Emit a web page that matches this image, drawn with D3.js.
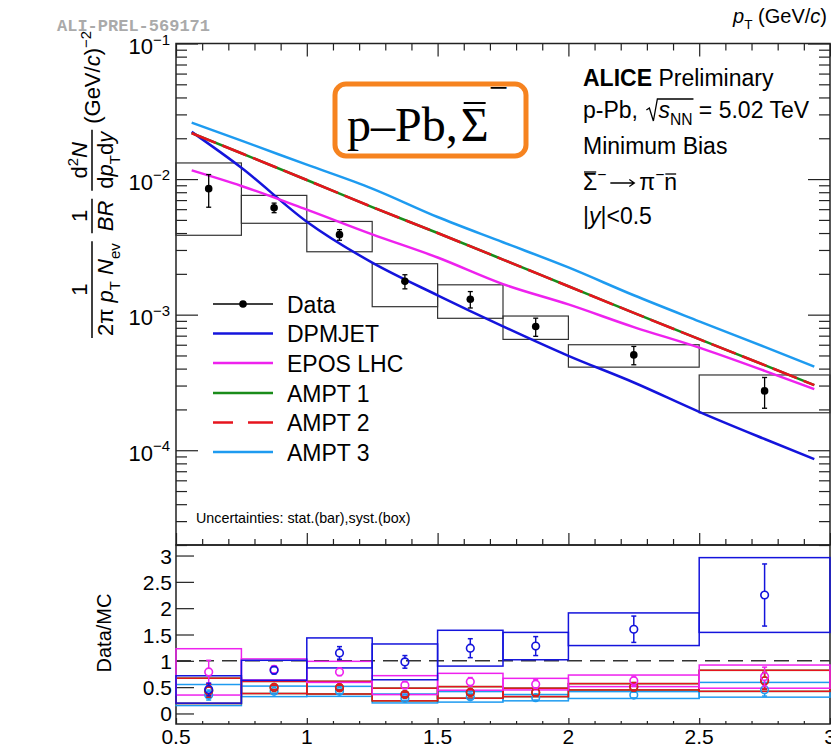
<!DOCTYPE html>
<html>
<head>
<meta charset="utf-8">
<script src="https://cdn.jsdelivr.net/npm/d3@7"></script>
<style>
  body { margin: 0; background: #fff; }
  text { font-family: "Liberation Sans", Arial, sans-serif; white-space: pre; fill: #000; }
</style>
</head>
<body>
<div id="container"></div>
<script>
/* DATA */
const binLow    = [0.5, 0.75, 1.0, 1.25, 1.5, 1.75, 2.0, 2.5];
const binHigh   = [0.75, 1.0, 1.25, 1.5, 1.75, 2.0, 2.5, 3.0];
const binCenter = [0.625, 0.875, 1.125, 1.375, 1.625, 1.875, 2.25, 2.75];
const dataYield = [8.5e-3, 6.15e-3, 3.89e-3, 1.76e-3, 1.30e-3, 8.17e-4, 5.05e-4, 2.74e-4];
const dataStat  = [2.3e-3, 0.5e-3, 0.35e-3, 0.21e-3, 0.18e-3, 1.25e-4, 0.78e-4, 0.7e-4];
const dataSyst  = [4.65e-3, 1.43e-3, 0.98e-3, 0.615e-3, 0.36e-3, 1.6e-4, 0.95e-4, 0.85e-4];

// model curves (pT grid)
const modelPt = [0.56, 0.75, 1.0, 1.25, 1.5, 1.75, 2.0, 2.25, 2.5, 2.75, 2.94];
const dpmjet  = [0.0223, 0.01213, 4.85e-3, 2.42e-3, 1.39e-3, 8.2e-4, 4.97e-4, 3.16e-4, 1.92e-4, 1.21e-4, 8.6e-5];
const eposLhc = [0.01159, 8.9e-3, 5.95e-3, 3.91e-3, 2.64e-3, 1.68e-3, 1.19e-3, 8.1e-4, 5.71e-4, 3.85e-4, 2.82e-4];
const ampt1   = [0.0218, 0.0155, 9.84e-3, 6.22e-3, 4.0e-3, 2.55e-3, 1.62e-3, 1.03e-3, 6.59e-4, 4.24e-4, 3.02e-4];
const ampt2   = [0.0218, 0.0155, 9.84e-3, 6.22e-3, 4.0e-3, 2.55e-3, 1.62e-3, 1.03e-3, 6.59e-4, 4.24e-4, 3.02e-4];
const ampt3   = [0.0261, 0.0192, 0.01277, 8.51e-3, 5.25e-3, 3.42e-3, 2.23e-3, 1.39e-3, 8.93e-4, 5.78e-4, 4.14e-4];

// Data/MC ratios
const ratioDpmjet     = [0.456, 0.82, 1.15, 0.98, 1.24, 1.28, 1.6, 2.25];
const ratioDpmjetStat = [0.12, 0.07, 0.12, 0.12, 0.18, 0.18, 0.25, 0.59];
const ratioDpmjetSyst = [0.26, 0.19, 0.285, 0.34, 0.34, 0.26, 0.31, 0.71];
const ratioEpos       = [0.79, 0.836, 0.79, 0.538, 0.602, 0.557, 0.62, 0.70];
const ratioEposStat   = [0.22, 0.07, 0.07, 0.065, 0.08, 0.085, 0.09, 0.18];
const ratioEposSyst   = [0.44, 0.2, 0.2, 0.18, 0.16, 0.11, 0.11, 0.22];
const ratioAmpt1      = [0.43, 0.494, 0.49, 0.36, 0.40, 0.40, 0.507, 0.62];
const ratioAmpt1Stat  = [0.12, 0.04, 0.045, 0.045, 0.055, 0.06, 0.08, 0.16];
const ratioAmpt1Syst  = [0.24, 0.115, 0.12, 0.12, 0.11, 0.08, 0.06, 0.2];
const ratioAmpt2      = [0.43, 0.494, 0.49, 0.36, 0.40, 0.40, 0.507, 0.62];
const ratioAmpt2Stat  = [0.12, 0.04, 0.045, 0.045, 0.055, 0.06, 0.08, 0.16];
const ratioAmpt2Syst  = [0.24, 0.115, 0.12, 0.12, 0.11, 0.08, 0.06, 0.2];
const ratioAmpt3      = [0.35, 0.42, 0.42, 0.285, 0.316, 0.30, 0.35, 0.45];
const ratioAmpt3Stat  = [0.095, 0.035, 0.04, 0.035, 0.045, 0.045, 0.055, 0.12];
const ratioAmpt3Syst  = [0.2, 0.1, 0.095, 0.085, 0.1, 0.06, 0.065, 0.14];

const legendLabels = ["Data", "DPMJET", "EPOS LHC", "AMPT 1", "AMPT 2", "AMPT 3"];
const topTickExp   = [-1, -2, -3, -4];
const ratioTicks   = [0, 0.5, 1, 1.5, 2, 2.5, 3];
const xTicks       = [0.5, 1, 1.5, 2, 2.5, 3];

/* CONSTANTS AND GLOBALS */
const width = 831, height = 747;
const left = 176, right = 830, top1 = 43.5, split = 545, bottom2 = 724;
const colors = {dpmjet: "#1414dc", epos: "#ee22ee", ampt1: "#1a8c1a", ampt2: "#e6141e", ampt3: "#1e9bf0"};

const svg = d3.select("#container").append("svg")
  .attr("width", width).attr("height", height);

// SCALES
const x = d3.scaleLinear().domain([0.5, 3]).range([left, right]);
const yTop = d3.scaleLog().domain([2e-5, 0.1]).range([split, top1]);
const yRat = d3.scaleLinear().domain([-0.2, 3.2]).range([bottom2, split]);

// small latex-ish text helper
function rich(g, x0, y0, parts, size, anchor) {
  const t = g.append("text").attr("x", x0).attr("y", y0)
    .attr("font-size", size).attr("text-anchor", anchor || "start");
  let shift = 0;
  parts.forEach(p => {
    const s = p.sub ? size * 0.3 : p.sup ? -size * 0.42 : 0;
    const sp = t.append("tspan").text(p.t).attr("dy", s - shift)
      .attr("font-size", (p.sub || p.sup) ? size * 0.68 : size);
    if (p.it) sp.attr("font-style", "italic");
    if (p.bold) sp.attr("font-weight", "bold");
    shift = s;
  });
  return t;
}

// AXES (ROOT style ticks pointing inward)
function ticks(axis, tx, ty) {
  svg.append("g").attr("transform", `translate(${tx},${ty})`).call(axis)
    .call(g => g.select(".domain").remove())
    .call(g => g.selectAll("line").attr("stroke", "#222").attr("stroke-width", 1.2))
    .call(g => g.selectAll("text").remove());
}
const logMajor = topTickExp.map(e => Math.pow(10, e));
const logMinor = [];
[-5, -4, -3, -2].forEach(e => d3.range(2, 10).forEach(k => {
  const v = k * Math.pow(10, e);
  if (v >= 2e-5 && v < 0.1) logMinor.push(v);
}));
const xMinor = d3.range(0.6, 3.0, 0.1).filter(v => Math.abs(v * 2 - Math.round(v * 2)) > 1e-6);

ticks(d3.axisLeft(yTop).tickValues(logMajor).tickSize(-22), left, 0);
ticks(d3.axisLeft(yTop).tickValues(logMinor).tickSize(-11), left, 0);
ticks(d3.axisRight(yTop).tickValues(logMajor).tickSize(-22), right, 0);
ticks(d3.axisRight(yTop).tickValues(logMinor).tickSize(-11), right, 0);
ticks(d3.axisTop(x).tickValues(xTicks).tickSize(-13), 0, top1);
ticks(d3.axisTop(x).tickValues(xMinor).tickSize(-7), 0, top1);
ticks(d3.axisBottom(x).tickValues(xTicks).tickSize(-12), 0, split);
ticks(d3.axisBottom(x).tickValues(xMinor).tickSize(-6), 0, split);
ticks(d3.axisLeft(yRat).tickValues(ratioTicks).tickSize(-18), left, 0);
ticks(d3.axisBottom(x).tickValues(xTicks).tickSize(-6), 0, bottom2);
ticks(d3.axisBottom(x).tickValues(xMinor).tickSize(-3), 0, bottom2);

// frames
svg.append("rect").attr("x", left).attr("y", top1).attr("width", right - left).attr("height", split - top1)
  .attr("fill", "none").attr("stroke", "#222").attr("stroke-width", 1.5);
svg.append("rect").attr("x", left).attr("y", split).attr("width", right - left).attr("height", bottom2 - split)
  .attr("fill", "none").attr("stroke", "#222").attr("stroke-width", 1.5);

// tick labels
topTickExp.forEach(e => rich(svg, 170, yTop(Math.pow(10, e)) + 10.5, [{t: "10"}, {t: "\u2212" + (-e), sup: 1}], 22, "end"));
ratioTicks.forEach(v => rich(svg, 172, yRat(v) + 8, [{t: String(v)}], 21, "end"));
xTicks.forEach(v => rich(svg, x(v), 744, [{t: String(v)}], 21, "middle"));

// axis titles
rich(svg, 827, 23, [{t: "p", it: 1}, {t: "T", sub: 1}, {t: " (GeV/"}, {t: "c", it: 1}, {t: ")"}], 20, "end");
svg.append("text").attr("transform", "translate(111,633) rotate(-90)")
  .attr("text-anchor", "middle").attr("font-size", 20).text("Data/MC");

const yt = svg.append("g").attr("transform", "translate(92,338) rotate(-90)");
function frac(g, x0, num, den, size) {
  const n = rich(g, 0, -5, num, size, "middle");
  const d = rich(g, 0, 21, den, size, "middle");
  const w = Math.max(n.node().getComputedTextLength(), d.node().getComputedTextLength()) + 4;
  n.attr("x", x0 + w / 2); d.attr("x", x0 + w / 2);
  g.append("line").attr("x1", x0).attr("x2", x0 + w).attr("y1", 0).attr("y2", 0)
    .attr("stroke", "#000").attr("stroke-width", 1.5);
  return x0 + w;
}
let cx = frac(yt, 0, [{t: "1"}], [{t: "2\u03c0 "}, {t: "p", it: 1}, {t: "T", sub: 1}, {t: " "}, {t: "N", it: 1}, {t: "ev", sub: 1}], 22);
cx = frac(yt, cx + 8, [{t: "1"}], [{t: "BR", it: 1}], 22);
cx = frac(yt, cx + 8, [{t: "d"}, {t: "2", sup: 1}, {t: "N", it: 1}], [{t: "d"}, {t: "p", it: 1}, {t: "T", sub: 1}, {t: "d"}, {t: "y", it: 1}], 22);
rich(yt, cx + 6, 8, [{t: "(GeV/"}, {t: "c", it: 1}, {t: ")"}, {t: "\u22122", sup: 1}], 22);

// preliminary tag
svg.append("text").attr("x", 57).attr("y", 31).attr("font-size", 17).attr("font-weight", "bold")
  .style("font-family", "'Liberation Mono', monospace").style("fill", "#aaa").text("ALI-PREL-569171");

// DATA BOXES (syst) AND POINTS
const idx = d3.range(binCenter.length);
svg.selectAll("rect.syst").data(idx).join("rect").attr("class", "syst")
  .attr("x", i => x(binLow[i])).attr("width", i => x(binHigh[i]) - x(binLow[i]))
  .attr("y", i => yTop(dataYield[i] + dataSyst[i]))
  .attr("height", i => yTop(dataYield[i] - dataSyst[i]) - yTop(dataYield[i] + dataSyst[i]))
  .attr("fill", "none").attr("stroke", "#333").attr("stroke-width", 1.2);

// MODEL LINES
const lineGen = d3.line().x(d => x(d[0])).y(d => yTop(d[1])).curve(d3.curveMonotoneX);
const models = [
  {vals: dpmjet, color: colors.dpmjet},
  {vals: eposLhc, color: colors.epos},
  {vals: ampt3, color: colors.ampt3},
  {vals: ampt1, color: colors.ampt1},
  {vals: ampt2, color: colors.ampt2, dash: "26,7"}
];
svg.selectAll("path.model").data(models).join("path").attr("class", "model")
  .attr("d", m => lineGen(modelPt.map((p, i) => [p, m.vals[i]])))
  .attr("fill", "none").attr("stroke", m => m.color).attr("stroke-width", 2.5)
  .attr("stroke-dasharray", m => m.dash || null);

// data points on top
idx.forEach(i => {
  const cxp = x(binCenter[i]);
  const yHi = yTop(dataYield[i] + dataStat[i]), yLo = yTop(dataYield[i] - dataStat[i]);
  svg.append("line").attr("x1", cxp).attr("x2", cxp).attr("y1", yHi).attr("y2", yLo).attr("stroke", "#000").attr("stroke-width", 1.3);
  [yHi, yLo].forEach(yy => svg.append("line").attr("x1", cxp - 2.5).attr("x2", cxp + 2.5).attr("y1", yy).attr("y2", yy).attr("stroke", "#000").attr("stroke-width", 1.3));
  svg.append("circle").attr("cx", cxp).attr("cy", yTop(dataYield[i])).attr("r", 3.8).attr("fill", "#000");
});

// LEGEND
const legY = [304, 333.5, 363, 393, 422.5, 452];
const legStyle = [
  {color: "#000", data: 1},
  {color: colors.dpmjet}, {color: colors.epos}, {color: colors.ampt1},
  {color: colors.ampt2, dash: "20,15,25"}, {color: colors.ampt3}
];
legendLabels.forEach((lab, i) => {
  const s = legStyle[i];
  svg.append("line").attr("x1", 213).attr("x2", 273).attr("y1", legY[i]).attr("y2", legY[i])
    .attr("stroke", s.color).attr("stroke-width", s.data ? 1.3 : 2.5).attr("stroke-dasharray", s.dash || null);
  if (s.data) svg.append("circle").attr("cx", 243).attr("cy", legY[i]).attr("r", 3.8).attr("fill", "#000");
  rich(svg, 287, legY[i] + 8.5, [{t: lab}], 23);
});
rich(svg, 196, 523, [{t: "Uncertainties: stat.(bar),syst.(box)"}], 14.3);

// TITLE BOX
svg.append("rect").attr("x", 335).attr("y", 84).attr("width", 191).attr("height", 72).attr("rx", 11)
  .attr("fill", "#fff").attr("stroke", "#f6831f").attr("stroke-width", 5);
const serif = "'Liberation Serif', 'Times New Roman', serif";
const tbY = 141;
const tb1 = svg.append("text").attr("x", 347).attr("y", tbY).attr("font-size", 48).style("font-family", serif).text("p\u2013Pb,");
const sx = 347 + tb1.node().getComputedTextLength() + 3;
const tb2 = svg.append("text").attr("x", sx).attr("y", tbY).attr("font-size", 48).style("font-family", serif).text("\u03a3");
const sw = tb2.node().getComputedTextLength();
svg.append("line").attr("x1", sx + 3).attr("x2", sx + sw - 3).attr("y1", tbY - 38).attr("y2", tbY - 38).attr("stroke", "#000").attr("stroke-width", 2);
svg.append("text").attr("x", sx + sw).attr("y", tbY - 42).attr("font-size", 34).style("font-family", serif).text("\u2212");

// ALICE TEXT
function seq(g, x0, y0, pieces, size) {
  let xx = x0;
  pieces.forEach(p => {
    if (p.sqrt) { xx += 2; p.sqrtStart = xx; xx += 12; return; }
    if (p.arrow) {
      const ay = y0 - 7, x1 = xx + 2, x2 = xx + p.arrow;
      g.append("path").attr("d", `M${x1},${ay} L${x2},${ay} M${x2 - 5},${ay - 3.5} L${x2},${ay} L${x2 - 5},${ay + 3.5}`)
        .attr("fill", "none").attr("stroke", "#000").attr("stroke-width", 1.3);
      xx += p.arrow + 5;
      return;
    }
    const t = rich(g, xx, y0, p.parts, size);
    const w = t.node().getComputedTextLength();
    if (p.over) g.append("line").attr("x1", xx + 1).attr("x2", xx + w - 1).attr("y1", y0 - p.over).attr("y2", y0 - p.over).attr("stroke", "#000").attr("stroke-width", 1.3);
    if (p.rad) {
      const xr = p.rad.sqrtStart, tp = y0 - 19;
      g.append("path").attr("d", `M${xr},${y0 - 8} L${xr + 3},${y0 - 10} L${xr + 7},${y0 + 3} L${xr + 11},${tp} L${xx + w + 1},${tp}`)
        .attr("fill", "none").attr("stroke", "#000").attr("stroke-width", 1.3);
    }
    xx += w + (p.gap || 0);
  });
}
rich(svg, 583, 86, [{t: "ALICE", bold: 1}, {t: " Preliminary"}], 23);
const rootMark = {sqrt: 1};
seq(svg, 583, 118, [
  {parts: [{t: "p-Pb, "}]}, rootMark,
  {parts: [{t: "s", it: 1}, {t: "NN", sub: 1}], rad: rootMark},
  {parts: [{t: " = 5.02 TeV"}]}
], 23);
rich(svg, 583, 154, [{t: "Minimum Bias"}], 23);
seq(svg, 583, 190, [
  {parts: [{t: "\u03a3"}], over: 18},
  {parts: [{t: "\u2212", sup: 1}], gap: 2},
  {arrow: 26},
  {parts: [{t: "\u03c0"}]},
  {parts: [{t: "\u2212", sup: 1}]},
  {parts: [{t: "n"}], over: 16}
], 23);
rich(svg, 583, 224, [{t: "|"}, {t: "y", it: 1}, {t: "|<0.5"}], 23);

// RATIO PANEL
svg.append("line").attr("x1", left).attr("x2", right).attr("y1", yRat(1)).attr("y2", yRat(1))
  .attr("stroke", "#333").attr("stroke-width", 1.6).attr("stroke-dasharray", "15,8");

const ratios = [
  {v: ratioAmpt3, st: ratioAmpt3Stat, sy: ratioAmpt3Syst, color: colors.ampt3},
  {v: ratioAmpt1, st: ratioAmpt1Stat, sy: ratioAmpt1Syst, color: colors.ampt1},
  {v: ratioAmpt2, st: ratioAmpt2Stat, sy: ratioAmpt2Syst, color: colors.ampt2},
  {v: ratioEpos, st: ratioEposStat, sy: ratioEposSyst, color: colors.epos},
  {v: ratioDpmjet, st: ratioDpmjetStat, sy: ratioDpmjetSyst, color: colors.dpmjet}
];
ratios.forEach(r => {
  svg.append("g").selectAll("rect").data(idx).join("rect")
    .attr("x", i => x(binLow[i])).attr("width", i => x(binHigh[i]) - x(binLow[i]))
    .attr("y", i => yRat(r.v[i] + r.sy[i]))
    .attr("height", i => yRat(r.v[i] - r.sy[i]) - yRat(r.v[i] + r.sy[i]))
    .attr("fill", "none").attr("stroke", r.color).attr("stroke-width", 1.5);
});
const mr = 3.8;
ratios.forEach(r => {
  idx.forEach(i => {
    const cxp = x(binCenter[i]), cy = yRat(r.v[i]);
    const yHi = yRat(r.v[i] + r.st[i]), yLo = yRat(r.v[i] - r.st[i]);
    if (cy - yHi > mr) {
      svg.append("line").attr("x1", cxp).attr("x2", cxp).attr("y1", yHi).attr("y2", cy - mr).attr("stroke", r.color).attr("stroke-width", 1.5);
      svg.append("line").attr("x1", cxp).attr("x2", cxp).attr("y1", cy + mr).attr("y2", yLo).attr("stroke", r.color).attr("stroke-width", 1.5);
    }
    [yHi, yLo].forEach(yy => svg.append("line").attr("x1", cxp - 2.5).attr("x2", cxp + 2.5).attr("y1", yy).attr("y2", yy).attr("stroke", r.color).attr("stroke-width", 1.5));
    svg.append("circle").attr("cx", cxp).attr("cy", cy).attr("r", mr).attr("fill", "none").attr("stroke", r.color).attr("stroke-width", 1.6);
  });
});
</script>
</body>
</html>
